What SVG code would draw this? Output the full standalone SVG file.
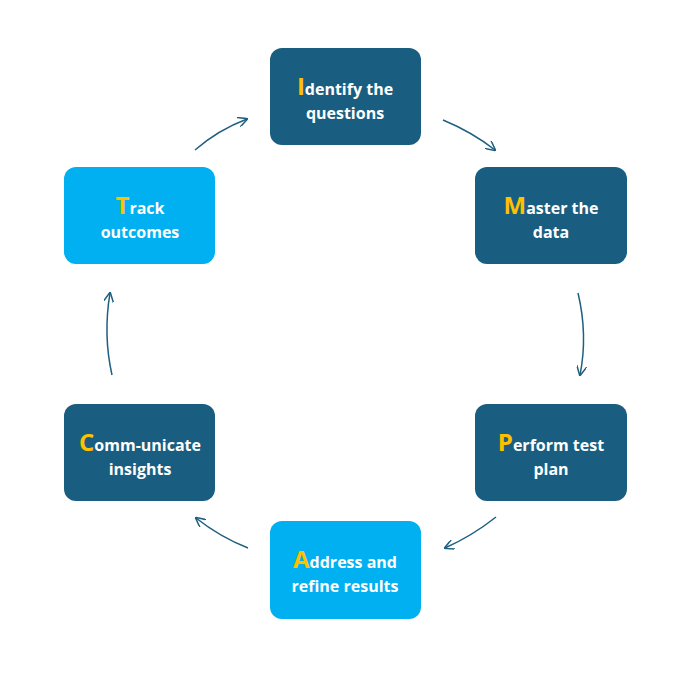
<svg xmlns="http://www.w3.org/2000/svg" width="686" height="695" viewBox="0 0 686 695">
<style>
.d{fill:#195E80}.l{fill:#00B0F0}
text{font-family:"Open Sans","Liberation Sans",sans-serif;font-weight:bold;font-size:16px;fill:#fff;text-anchor:middle}
.b{fill:#FFC000;font-size:24px}
.c{fill:none;stroke:#1F5F80;stroke-width:1.5;marker-end:url(#a)}
</style>
<defs><marker id="a" viewBox="0 0 10 10" refX="9" refY="5" markerWidth="10" markerHeight="10" markerUnits="userSpaceOnUse" orient="auto"><path d="M0,0 L10,5 L0,10" fill="none" stroke="#1F5F80" stroke-width="1.5"/></marker></defs>
<rect width="686" height="695" fill="#fff"/>
<g id="identify"><rect class="d" x="270" y="48" width="151" height="97" rx="12"/><text x="345" y="95"><tspan class="b">I</tspan>dentify the</text><text x="345" y="119">questions</text></g>
<g id="master"><rect class="d" x="475" y="167" width="152" height="97" rx="12"/><text x="551" y="214"><tspan class="b">M</tspan>aster the</text><text x="551" y="238">data</text></g>
<g id="perform"><rect class="d" x="475" y="404" width="152" height="97" rx="12"/><text x="551" y="451"><tspan class="b">P</tspan>erform test</text><text x="551" y="475">plan</text></g>
<g id="address"><rect class="l" x="270" y="521" width="151" height="98" rx="12"/><text x="345" y="568"><tspan class="b">A</tspan>ddress and</text><text x="345" y="592">refine results</text></g>
<g id="communicate"><rect class="d" x="64" y="404" width="151" height="97" rx="12"/><text x="140" y="451"><tspan class="b">C</tspan>omm-unicate</text><text x="140" y="475">insights</text></g>
<g id="track"><rect class="l" x="64" y="167" width="151" height="97" rx="12"/><text x="140" y="214"><tspan class="b">T</tspan>rack</text><text x="140" y="238">outcomes</text></g>
<g id="connectors">
<path class="c" d="M443,120 Q472,132 495,150"/>
<path class="c" d="M578,293 Q588,335 580,375"/>
<path class="c" d="M496,517 Q472,536 445,548"/>
<path class="c" d="M248,548 Q220,537 196,518"/>
<path class="c" d="M112,375 Q103,335 110,293"/>
<path class="c" d="M195,150 Q218,130 247,119"/>
</g>
</svg>
